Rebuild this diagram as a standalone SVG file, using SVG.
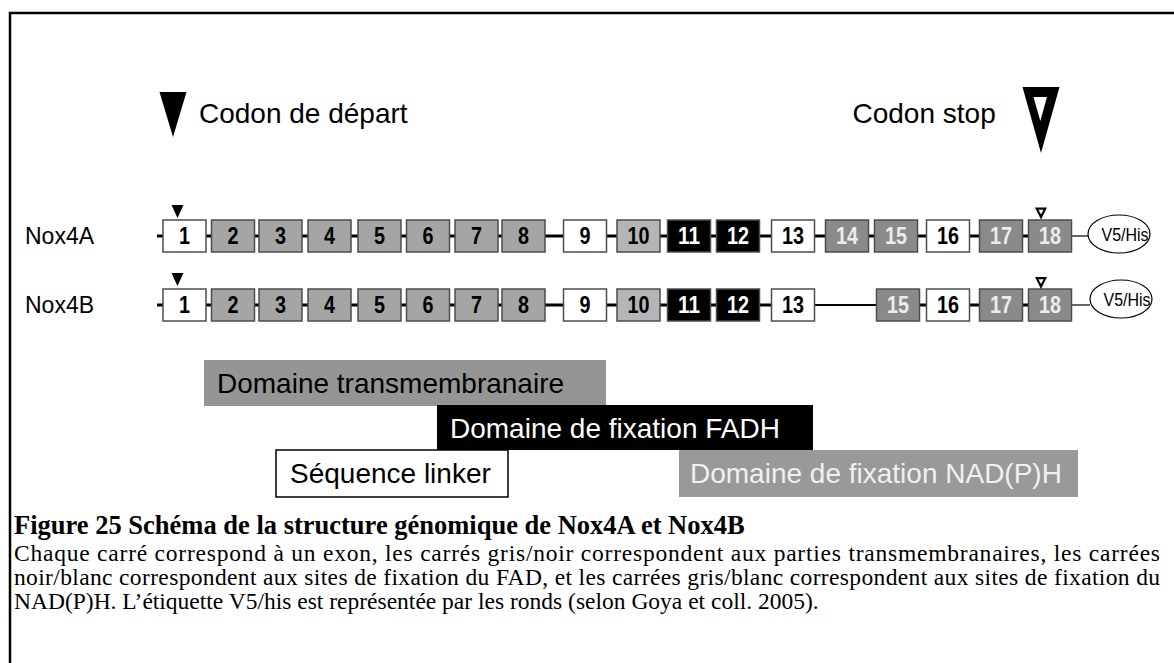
<svg xmlns="http://www.w3.org/2000/svg" width="1174" height="663" viewBox="0 0 1174 663">
<style>
.bx{stroke:#4d4d4d;stroke-width:1.5}
.w{fill:#fff}.g{fill:#a5a5a5}.lg{fill:#b5b5b5}.k{fill:#000}.dg{fill:#8a8a8a}
.n{font-family:"Liberation Sans",Arial,sans-serif;font-weight:bold;font-size:23px;text-anchor:middle}
.tw{fill:#000}.tk{fill:#fff}.td{fill:#ececec}
.lab{font-family:"Liberation Sans",Arial,sans-serif;font-size:28px}
.row{font-family:"Liberation Sans",Arial,sans-serif;font-size:23px;fill:#000}
.cap{font-family:"Liberation Serif","Times New Roman",serif;fill:#000}
.bb{stroke:#000;stroke-width:3;fill:none}
.thin{stroke:#000;stroke-width:1.2;fill:none}
.tag{font-family:"Liberation Sans",Arial,sans-serif;font-size:18.5px;fill:#000}
</style>
<defs>
<polygon id="st" points="-6,0 6,0 0,13" fill="#000"/>
<g id="sp"><polygon points="-6,0 6,0 0,12" fill="#000"/><polygon points="-2.6,2.2 2.6,2.2 0,7" fill="#fff"/></g>
</defs>
<path d="M10,663 V13 H1174" fill="none" stroke="#000" stroke-width="2.5"/>

<g id="legend-start">
<polygon points="159.5,92 186.5,92 173,137" fill="#000"/>
<text class="lab" x="199" y="123">Codon de départ</text>
</g>
<g id="legend-stop">
<polygon points="1022.5,87 1059.5,87 1041,153" fill="#000"/>
<polygon points="1033.5,97 1047,97 1040.3,121" fill="#fff"/>
<text class="lab" x="852.5" y="123">Codon stop</text>
</g>

<g id="connectors">
<path class="bb" d="M157,236 H1072"/>
<path class="thin" d="M1072,236 H1088"/>
<path class="bb" d="M157,305 H815"/>
<path d="M815,305 H877" stroke="#000" stroke-width="2"/>
<path class="bb" d="M877,305 H1072"/>
<path class="thin" d="M1072,305 H1090"/>
</g>

<text class="row" x="25" y="244">Nox4A</text>
<text class="row" x="25" y="313">Nox4B</text>

<g id="nox4a">
<g id="a1"><rect class="bx w" x="163" y="220" width="43" height="32"/><text class="n tw" x="184.5" y="244" textLength="11" lengthAdjust="spacingAndGlyphs">1</text></g>
<g id="a2"><rect class="bx g" x="211.5" y="220" width="43" height="32"/><text class="n tw" x="233" y="244" textLength="11" lengthAdjust="spacingAndGlyphs">2</text></g>
<g id="a3"><rect class="bx g" x="259" y="220" width="43" height="32"/><text class="n tw" x="280.5" y="244" textLength="11" lengthAdjust="spacingAndGlyphs">3</text></g>
<g id="a4"><rect class="bx g" x="308" y="220" width="43" height="32"/><text class="n tw" x="329.5" y="244" textLength="11" lengthAdjust="spacingAndGlyphs">4</text></g>
<g id="a5"><rect class="bx g" x="358" y="220" width="43" height="32"/><text class="n tw" x="379.5" y="244" textLength="11" lengthAdjust="spacingAndGlyphs">5</text></g>
<g id="a6"><rect class="bx g" x="406.5" y="220" width="43" height="32"/><text class="n tw" x="428" y="244" textLength="11" lengthAdjust="spacingAndGlyphs">6</text></g>
<g id="a7"><rect class="bx g" x="455" y="220" width="43" height="32"/><text class="n tw" x="476.5" y="244" textLength="11" lengthAdjust="spacingAndGlyphs">7</text></g>
<g id="a8"><rect class="bx g" x="502" y="220" width="43" height="32"/><text class="n tw" x="523.5" y="244" textLength="11" lengthAdjust="spacingAndGlyphs">8</text></g>
<g id="a9"><rect class="bx w" x="563.5" y="220" width="43" height="32"/><text class="n tw" x="585" y="244" textLength="11" lengthAdjust="spacingAndGlyphs">9</text></g>
<g id="a10"><rect class="bx lg" x="617" y="220" width="43" height="32"/><text class="n tw" x="638.5" y="244" textLength="22" lengthAdjust="spacingAndGlyphs">10</text></g>
<g id="a11"><rect class="bx k" x="667.5" y="220" width="43" height="32"/><text class="n tk" x="689" y="244" textLength="22" lengthAdjust="spacingAndGlyphs">11</text></g>
<g id="a12"><rect class="bx k" x="716.5" y="220" width="43" height="32"/><text class="n tk" x="738" y="244" textLength="22" lengthAdjust="spacingAndGlyphs">12</text></g>
<g id="a13"><rect class="bx w" x="771.5" y="220" width="43" height="32"/><text class="n tw" x="793" y="244" textLength="22" lengthAdjust="spacingAndGlyphs">13</text></g>
<g id="a14"><rect class="bx dg" x="825.5" y="220" width="43" height="32"/><text class="n td" x="847" y="244" textLength="22" lengthAdjust="spacingAndGlyphs">14</text></g>
<g id="a15"><rect class="bx dg" x="874.5" y="220" width="43" height="32"/><text class="n td" x="896" y="244" textLength="22" lengthAdjust="spacingAndGlyphs">15</text></g>
<g id="a16"><rect class="bx w" x="926.5" y="220" width="43" height="32"/><text class="n tw" x="948" y="244" textLength="22" lengthAdjust="spacingAndGlyphs">16</text></g>
<g id="a17"><rect class="bx dg" x="979.5" y="220" width="43" height="32"/><text class="n td" x="1001" y="244" textLength="22" lengthAdjust="spacingAndGlyphs">17</text></g>
<g id="a18"><rect class="bx dg" x="1028.5" y="220" width="43" height="32"/><text class="n td" x="1050" y="244" textLength="22" lengthAdjust="spacingAndGlyphs">18</text></g>
<use href="#st" x="177.5" y="205"/>
<use href="#sp" x="1041" y="207.5"/>
<g id="a-tag"><ellipse cx="1119" cy="234" rx="31" ry="19" fill="#fff" stroke="#000" stroke-width="1.2"/><text class="tag" x="1101.5" y="240.5" textLength="47" lengthAdjust="spacingAndGlyphs">V5/His</text></g>
</g>

<g id="nox4b">
<g id="b1"><rect class="bx w" x="163" y="289" width="43" height="32"/><text class="n tw" x="184.5" y="313" textLength="11" lengthAdjust="spacingAndGlyphs">1</text></g>
<g id="b2"><rect class="bx g" x="211.5" y="289" width="43" height="32"/><text class="n tw" x="233" y="313" textLength="11" lengthAdjust="spacingAndGlyphs">2</text></g>
<g id="b3"><rect class="bx g" x="259" y="289" width="43" height="32"/><text class="n tw" x="280.5" y="313" textLength="11" lengthAdjust="spacingAndGlyphs">3</text></g>
<g id="b4"><rect class="bx g" x="308" y="289" width="43" height="32"/><text class="n tw" x="329.5" y="313" textLength="11" lengthAdjust="spacingAndGlyphs">4</text></g>
<g id="b5"><rect class="bx g" x="358" y="289" width="43" height="32"/><text class="n tw" x="379.5" y="313" textLength="11" lengthAdjust="spacingAndGlyphs">5</text></g>
<g id="b6"><rect class="bx g" x="406.5" y="289" width="43" height="32"/><text class="n tw" x="428" y="313" textLength="11" lengthAdjust="spacingAndGlyphs">6</text></g>
<g id="b7"><rect class="bx g" x="455" y="289" width="43" height="32"/><text class="n tw" x="476.5" y="313" textLength="11" lengthAdjust="spacingAndGlyphs">7</text></g>
<g id="b8"><rect class="bx g" x="502" y="289" width="43" height="32"/><text class="n tw" x="523.5" y="313" textLength="11" lengthAdjust="spacingAndGlyphs">8</text></g>
<g id="b9"><rect class="bx w" x="563.5" y="289" width="43" height="32"/><text class="n tw" x="585" y="313" textLength="11" lengthAdjust="spacingAndGlyphs">9</text></g>
<g id="b10"><rect class="bx lg" x="617" y="289" width="43" height="32"/><text class="n tw" x="638.5" y="313" textLength="22" lengthAdjust="spacingAndGlyphs">10</text></g>
<g id="b11"><rect class="bx k" x="667.5" y="289" width="43" height="32"/><text class="n tk" x="689" y="313" textLength="22" lengthAdjust="spacingAndGlyphs">11</text></g>
<g id="b12"><rect class="bx k" x="716.5" y="289" width="43" height="32"/><text class="n tk" x="738" y="313" textLength="22" lengthAdjust="spacingAndGlyphs">12</text></g>
<g id="b13"><rect class="bx w" x="771.5" y="289" width="43" height="32"/><text class="n tw" x="793" y="313" textLength="22" lengthAdjust="spacingAndGlyphs">13</text></g>
<g id="b15"><rect class="bx dg" x="876.5" y="289" width="43" height="32"/><text class="n td" x="898" y="313" textLength="22" lengthAdjust="spacingAndGlyphs">15</text></g>
<g id="b16"><rect class="bx w" x="926.5" y="289" width="43" height="32"/><text class="n tw" x="948" y="313" textLength="22" lengthAdjust="spacingAndGlyphs">16</text></g>
<g id="b17"><rect class="bx dg" x="979.5" y="289" width="43" height="32"/><text class="n td" x="1001" y="313" textLength="22" lengthAdjust="spacingAndGlyphs">17</text></g>
<g id="b18"><rect class="bx dg" x="1028.5" y="289" width="43" height="32"/><text class="n td" x="1050" y="313" textLength="22" lengthAdjust="spacingAndGlyphs">18</text></g>
<use href="#st" x="177.5" y="273"/>
<use href="#sp" x="1041" y="277"/>
<g id="b-tag"><ellipse cx="1121" cy="299" rx="31" ry="19" fill="#fff" stroke="#000" stroke-width="1.2"/><text class="tag" x="1103.5" y="305.5" textLength="47" lengthAdjust="spacingAndGlyphs">V5/His</text></g>
</g>

<g id="dom-tm"><rect x="204" y="360" width="402" height="46" fill="#959595"/><text class="lab" x="217" y="393" fill="#000">Domaine transmembranaire</text></g>
<g id="dom-fad"><rect x="437" y="405" width="376" height="45" fill="#000"/><text class="lab" x="450" y="437.5" fill="#fff">Domaine de fixation FADH</text></g>
<g id="dom-linker"><rect x="276" y="450" width="232" height="47" fill="#fff" stroke="#000" stroke-width="1.5"/><text class="lab" x="290" y="483" fill="#000">Séquence linker</text></g>
<g id="dom-nad"><rect x="679" y="450" width="399" height="47" fill="#999"/><text class="lab" x="690" y="483" fill="#f0f0f0">Domaine de fixation NAD(P)H</text></g>

<g id="caption">
<text class="cap" x="14" y="534" font-size="26.5" font-weight="bold">Figure 25 Schéma de la structure génomique de Nox4A et Nox4B</text>
<text class="cap" x="14" y="561" font-size="23.5" textLength="1146">Chaque carré correspond à un exon, les carrés gris/noir correspondent aux parties transmembranaires, les carrées</text>
<text class="cap" x="14" y="585" font-size="23.5" textLength="1146">noir/blanc correspondent aux sites de fixation du FAD, et les carrées gris/blanc correspondent aux sites de fixation du</text>
<text class="cap" x="14" y="609" font-size="23.5">NAD(P)H. L’étiquette V5/his est représentée par les ronds (selon Goya et coll. 2005).</text>
</g>
</svg>
